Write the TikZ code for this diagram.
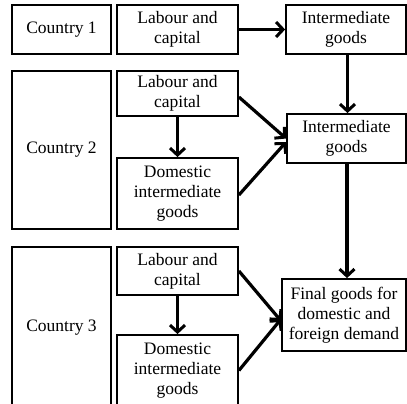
\documentclass[tikz,border=0pt]{standalone}
\usepackage{fontspec}
\setmainfont{Liberation Serif}
\usetikzlibrary{arrows.meta}
\begin{document}
\begin{tikzpicture}[x=1pt,y=-1pt,
  box/.style={draw=black, line width=1.8pt, fill=white, align=center, inner sep=0pt,
    font=\fontsize{17.5}{20}\selectfont, text=black},
  arr/.style={line width=3.2pt, -{Straight Barb[length=7pt,width=15pt,line width=3pt]}}]
\clip (0,0) rectangle (407,404);
\fill[white] (0,0) rectangle (407,404);
% Country 1
\node[box, minimum width=99pt, minimum height=49pt] (c1) at (61.5,29.5) {Country 1};
\node[box, minimum width=121pt, minimum height=49pt] (l1) at (177.5,29.5) {Labour and\\capital};
\node[box, minimum width=120pt, minimum height=49pt] (i1) at (346,29.5) {Intermediate\\goods};
% Country 2
\node[box, minimum width=99pt, minimum height=158pt] (c2) at (61.5,150) {Country 2};
\node[box, minimum width=121pt, minimum height=45pt] (l2) at (177.5,93.5) {Labour and\\capital};
\node[box, minimum width=119pt, minimum height=49pt] (i2) at (346.5,138.5) {Intermediate\\goods};
\node[box, minimum width=121pt, minimum height=71pt] (d2) at (177.5,193.5) {Domestic\\intermediate\\goods};
% Country 3
\node[box, minimum width=99pt, minimum height=162pt] (c3) at (61.5,328) {Country 3};
\node[box, minimum width=121pt, minimum height=48pt] (l3) at (177.5,271) {Labour and\\capital};
\node[box, minimum width=121pt, minimum height=71pt] (d3) at (177.5,370.5) {Domestic\\intermediate\\goods};
\node[box, minimum width=124pt, minimum height=72pt] (f) at (344,315) {Final goods for\\domestic and\\foreign demand};
% arrows
\draw[arr] (l1.east) -- (i1.west);
\draw[arr] ([xshift=1.5pt]i1.south) -- ([xshift=1.5pt]i1.south |- i2.north);
\draw[arr] ([yshift=-3.5pt]l2.east) -- ([yshift=0pt]i2.west);
\draw[arr] (l2.south) -- (d2.north);
\draw[arr] ([yshift=-1.5pt]d2.east) -- ([yshift=-3.5pt]i2.west);
\draw[arr] ([xshift=0.5pt]i2.south) -- ([xshift=0.5pt]i2.south |- f.north);
\draw[arr] (l3.east) -- ([yshift=-6pt]f.west);
\draw[arr] (l3.south) -- (d3.north);
\draw[arr] (d3.east) -- ([yshift=-4pt]f.west);
\end{tikzpicture}
\end{document}
